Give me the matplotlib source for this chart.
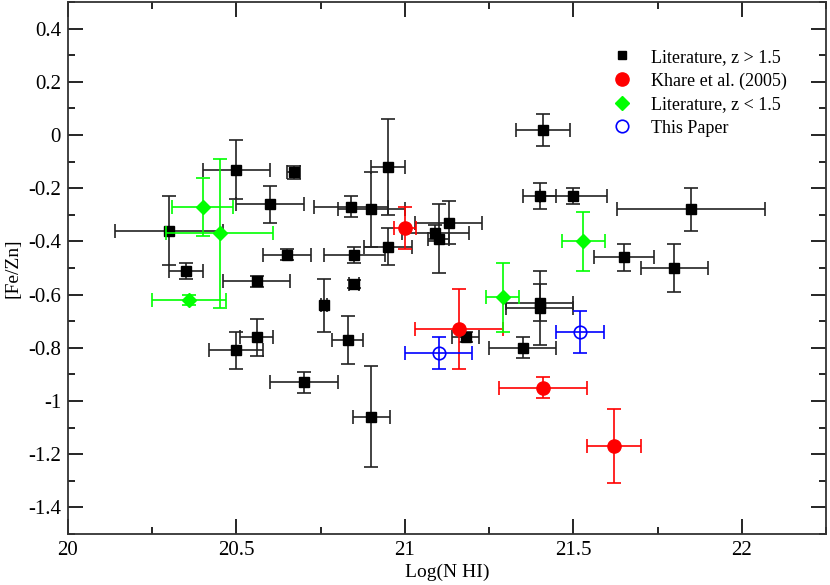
import matplotlib
matplotlib.use("Agg")
import matplotlib.pyplot as plt
from matplotlib.ticker import MultipleLocator, FuncFormatter

plt.rcParams['font.family'] = ['Liberation Serif', 'DejaVu Serif']

# Literature, z > 1.5
lit_hi_x = [20.30, 20.35, 20.50, 20.50, 20.56, 20.56, 20.60, 20.65, 20.67, 20.70,
            20.76, 20.83, 20.84, 20.85, 20.85, 20.90, 20.90, 20.95, 20.95, 21.09,
            21.10, 21.13, 21.18, 21.35, 21.40, 21.40, 21.40, 21.41, 21.50, 21.65,
            21.80, 21.85]
lit_hi_y = [-0.36, -0.51, -0.13, -0.81, -0.55, -0.76, -0.26, -0.45, -0.14, -0.93,
            -0.64, -0.77, -0.27, -0.45, -0.56, -0.28, -1.06, -0.12, -0.42, -0.37,
            -0.39, -0.33, -0.76, -0.80, -0.23, -0.63, -0.65, 0.02, -0.23, -0.46,
            -0.50, -0.28]
lit_hi_xerr = [0.16, 0.05, 0.10, 0.08, 0.10, 0.05, 0.10, 0.07, 0.02, 0.10,
               0.01, 0.045, 0.11, 0.09, 0.015, 0.10, 0.055, 0.05, 0.07, 0.10,
               0.03, 0.10, 0.04, 0.10, 0.05, 0.10, 0.10, 0.08, 0.10, 0.09,
               0.10, 0.22]
lit_hi_yerr = [0.13, 0.03, 0.11, 0.07, 0.02, 0.07, 0.07, 0.02, 0.025, 0.04,
               0.10, 0.09, 0.04, 0.03, 0.015, 0.14, 0.19, 0.18, 0.07, 0.03,
               0.13, 0.08, 0.02, 0.04, 0.05, 0.07, 0.14, 0.06, 0.03, 0.05,
               0.09, 0.08]

# Khare et al. (2005)
khare_x = [21.00, 21.16, 21.41, 21.62]
khare_y = [-0.35, -0.73, -0.95, -1.17]
khare_xerr = [0.033, 0.13, 0.13, 0.08]
khare_yerr = [0.08, 0.15, 0.04, 0.14]

# Literature, z < 1.5
lit_lo_x = [20.36, 20.40, 20.45, 21.29, 21.53]
lit_lo_y = [-0.62, -0.27, -0.37, -0.61, -0.40]
lit_lo_xerr = [0.11, 0.09, 0.16, 0.05, 0.065]
lit_lo_yerr = [0.02, 0.11, 0.28, 0.13, 0.11]

# This Paper
this_x = [21.10, 21.52]
this_y = [-0.82, -0.74]
this_xerr = [0.10, 0.07]
this_yerr = [0.06, 0.08]

fig = plt.figure(figsize=(8.3, 5.85), dpi=100)
ax = fig.add_axes([0.0819, 0.0872, 0.9133, 0.9094])

cap = 5
ax.errorbar(lit_hi_x, lit_hi_y, xerr=lit_hi_xerr, yerr=lit_hi_yerr, fmt='s',
            color='black', ecolor='#222222', elinewidth=1.2, capsize=cap, capthick=1.2,
            markersize=6.5, label='Literature, z > 1.5', zorder=3)
ax.errorbar(khare_x, khare_y, xerr=khare_xerr, yerr=khare_yerr, fmt='o',
            color='red', ecolor='red', elinewidth=1.2, capsize=cap, capthick=1.2,
            markersize=9.5, label='Khare et al. (2005)', zorder=4)
ax.errorbar(lit_lo_x, lit_lo_y, xerr=lit_lo_xerr, yerr=lit_lo_yerr, fmt='D',
            color='#00ff00', ecolor='#00ff00', elinewidth=1.2, capsize=cap, capthick=1.2,
            markersize=7, label='Literature, z < 1.5', zorder=4)
ax.errorbar(this_x, this_y, xerr=this_xerr, yerr=this_yerr, fmt='o',
            color='blue', mfc='none', mec='blue', ecolor='blue', elinewidth=1.2,
            capsize=cap, capthick=1.2, markersize=9, mew=1.2,
            label='This Paper', zorder=4)

ax.set_xlim(20, 22.25)
ax.set_ylim(-1.5, 0.5)
ax.xaxis.set_major_locator(MultipleLocator(0.5))
ax.xaxis.set_minor_locator(MultipleLocator(0.25))
ax.yaxis.set_major_locator(MultipleLocator(0.2))
ax.yaxis.set_minor_locator(MultipleLocator(0.1))

def fmt(v, pos):
    s = ('%.1f' % v).rstrip('0').rstrip('.')
    if s in ('-0', ''):
        s = '0'
    return s

ax.xaxis.set_major_formatter(FuncFormatter(fmt))
ax.yaxis.set_major_formatter(FuncFormatter(fmt))
ax.tick_params(which='both', direction='in', top=True, right=True, labelsize=15, width=1.2)
ax.tick_params(which='major', length=10.5, pad=5)
ax.tick_params(which='minor', length=5)
for sp in ax.spines.values():
    sp.set_linewidth(1.3)
    sp.set_color('#333333')

ax.set_xlabel('Log(N HI)', fontsize=14, labelpad=3)
ax.set_ylabel('[Fe/Zn]', fontsize=14, labelpad=5)

handles, labels = ax.get_legend_handles_labels()
hs = [h[0] for h in handles]
leg = ax.legend(hs, labels, loc='upper left', bbox_to_anchor=(0.713, 0.912),
                frameon=False, fontsize=13, handletextpad=0.86, labelspacing=0.36,
                handlelength=1.5, borderpad=0, borderaxespad=0)
leg.legend_handles[0].set_markersize(6)

fig.savefig('out.png', dpi=100)
